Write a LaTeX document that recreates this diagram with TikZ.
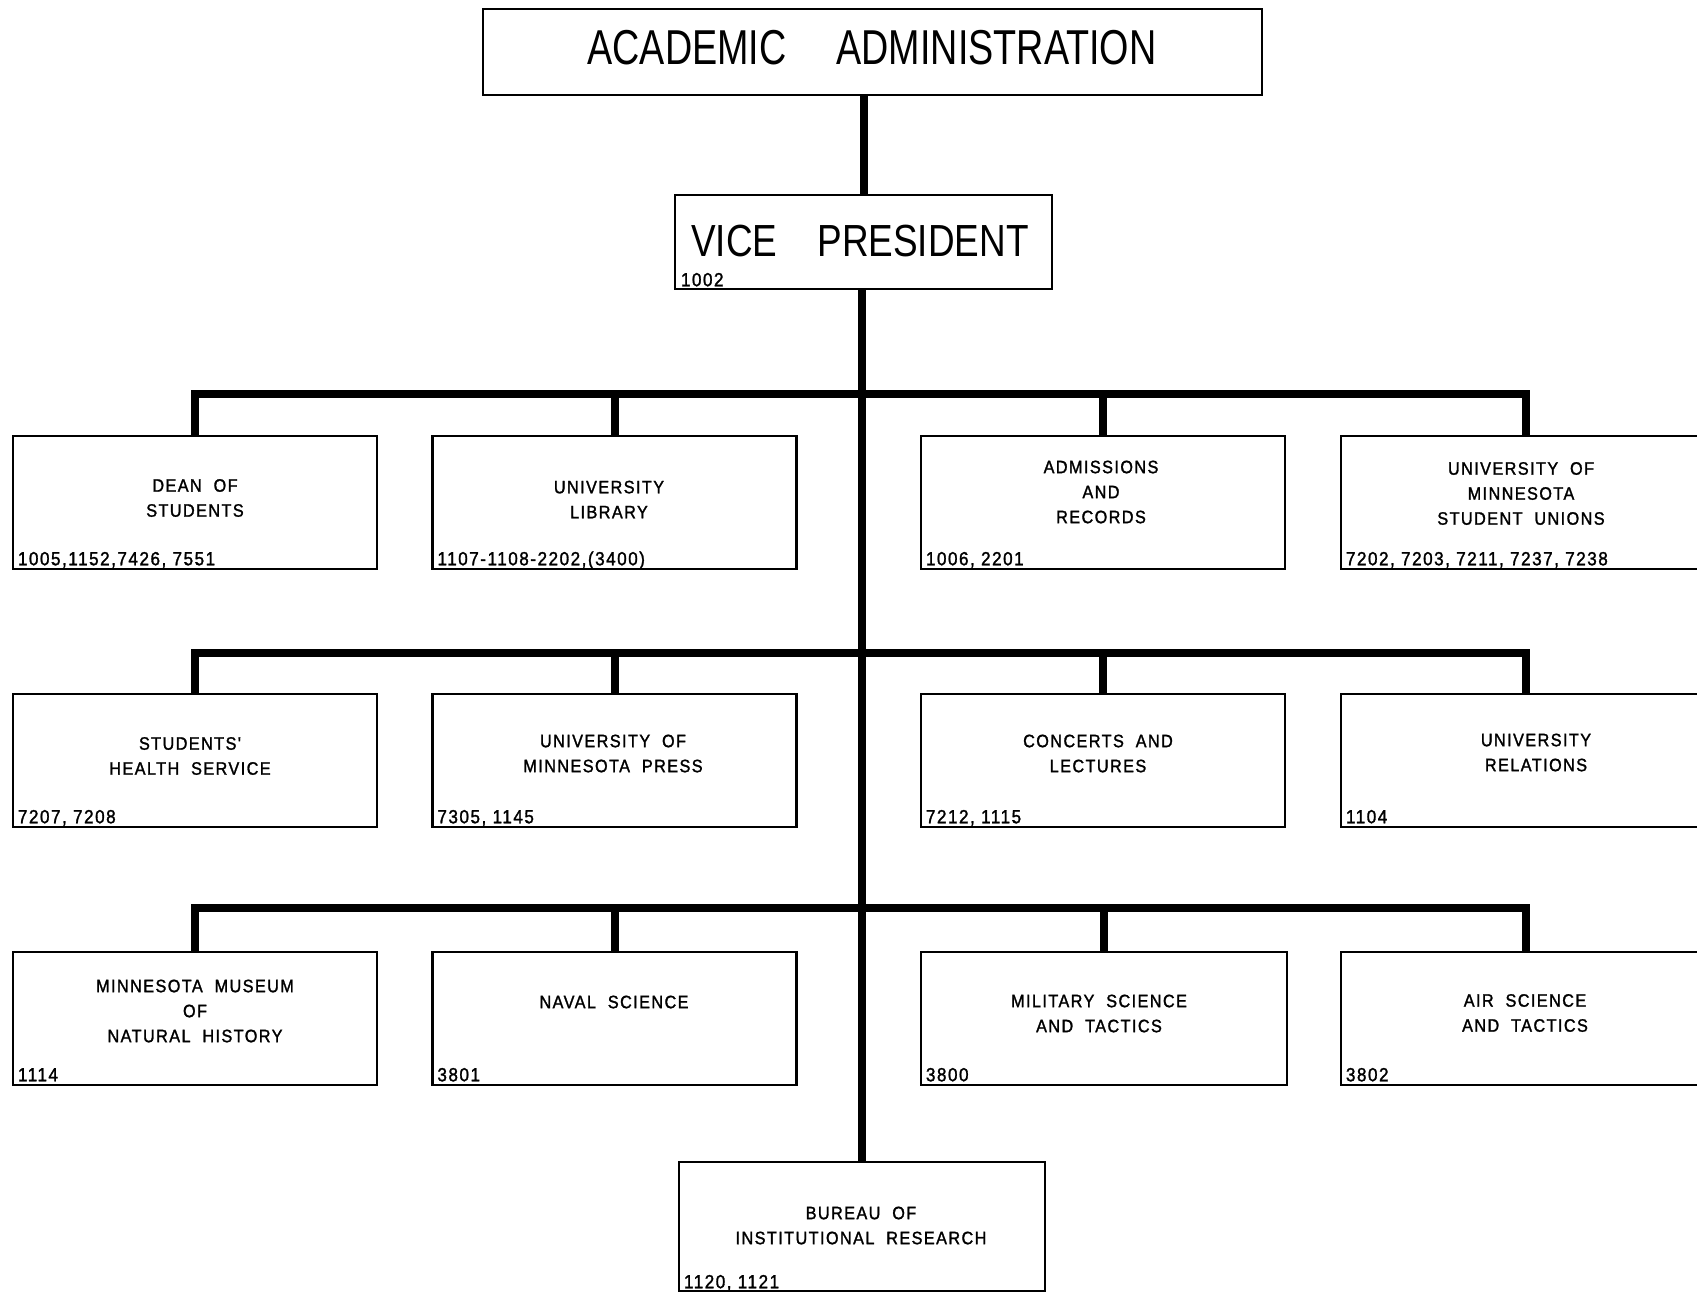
\documentclass[tikz,border=0pt]{standalone}
\usepackage{fontspec}
\setmainfont{Liberation Sans}
\newfontfamily\titlefont[FakeStretch=0.77]{Liberation Sans}
\newfontfamily\vpfont[FakeStretch=0.82]{Liberation Sans}
\newfontfamily\boxfont[FakeStretch=0.9,LetterSpace=8,FakeBold=1.5]{Liberation Sans}
\newcommand\wg{\ \ }
\tikzset{
  box/.style={draw, line width=2.5pt, rectangle, inner sep=0pt, minimum width=364pt, minimum height=133pt},
  lbl/.style={font=\boxfont\fontsize{18}{25}\selectfont, align=center, inner sep=0pt},
  num/.style={font=\boxfont\fontsize{19}{20}\selectfont, anchor=base west, inner sep=0pt},
  link/.style={line width=8pt, line join=miter},
}
\begin{document}
\begin{tikzpicture}[x=1pt,y=-1pt]
\useasboundingbox (0,0) rectangle (1697,1293);
\clip (0,0) rectangle (1697,1293);

% top boxes
\node[box, minimum width=779pt, minimum height=86pt] (aa) at (872.5,52) {};
\node[inner sep=0pt, font=\titlefont\fontsize{49}{50}\selectfont] (aat) at (872,48) {ACADEMIC\hspace{50pt}ADMINISTRATION};
\node[box, minimum width=377pt, minimum height=94pt] (vp) at (863.5,242) {};
\node[inner sep=0pt, font=\vpfont\fontsize{45}{46}\selectfont] (vpt) at (860,241) {VICE\hspace{40pt}PRESIDENT};
\node[num] (vpn) at ([xshift=7pt,yshift=4pt]vp.south west) {1002};

% bureau
\node[box, minimum width=366pt, minimum height=129pt] (bir) at (862,1226.5) {};
\node[lbl] (birt) at (861,1225.5) {BUREAU\wg OF\\INSTITUTIONAL\wg RESEARCH};
\node[num] (birn) at ([xshift=6pt,yshift=4pt]bir.south west) {1120, 1121};

% row 1
\node[box] (b11) at (195,502.5) {};
\node[box] (b12) at (614.5,502.5) {};
\node[box] (b13) at (1103,502.5) {};
\node[box, minimum width=370pt] (b14) at (1526,502.5) {};
\node[lbl] (t11) at (195,498) {DEAN\wg OF\\STUDENTS};
\node[lbl] (t12) at (609,499.5) {UNIVERSITY\\LIBRARY};
\node[lbl] (t13) at (1101,492) {ADMISSIONS\\AND\\RECORDS};
\node[lbl] (t14) at (1521,493.5) {UNIVERSITY\wg OF\\MINNESOTA\\STUDENT\wg UNIONS};
\node[num] (n11) at ([xshift=6pt,yshift=5pt]b11.south west) {1005,1152,7426, 7551};
\node[num] (n12) at ([xshift=6pt,yshift=5pt]b12.south west) {1107-1108-2202,(3400)};
\node[num] (n13) at ([xshift=6pt,yshift=5pt]b13.south west) {1006, 2201};
\node[num] (n14) at ([xshift=6pt,yshift=5pt]b14.south west) {7202, 7203, 7211, 7237, 7238};

% row 2
\node[box] (b21) at (195,760.5) {};
\node[box] (b22) at (614.5,760.5) {};
\node[box] (b23) at (1103,760.5) {};
\node[box, minimum width=370pt] (b24) at (1526,760.5) {};
\node[lbl] (t21) at (190,756) {STUDENTS'\\HEALTH\wg SERVICE};
\node[lbl] (t22) at (613,753.5) {UNIVERSITY\wg OF\\MINNESOTA\wg PRESS};
\node[lbl] (t23) at (1098,753.5) {CONCERTS\wg AND\\LECTURES};
\node[lbl] (t24) at (1536,752.5) {UNIVERSITY\\RELATIONS};
\node[num] (n21) at ([xshift=6pt,yshift=5pt]b21.south west) {7207, 7208};
\node[num] (n22) at ([xshift=6pt,yshift=5pt]b22.south west) {7305, 1145};
\node[num] (n23) at ([xshift=6pt,yshift=5pt]b23.south west) {7212, 1115};
\node[num] (n24) at ([xshift=6pt,yshift=5pt]b24.south west) {1104};

% row 3
\node[box] (b31) at (195,1018.5) {};
\node[box] (b32) at (614.5,1018.5) {};
\node[box, minimum width=366pt] (b33) at (1104,1018.5) {};
\node[box, minimum width=370pt] (b34) at (1526,1018.5) {};
\node[lbl] (t31) at (195,1011) {MINNESOTA\wg MUSEUM\\OF\\NATURAL\wg HISTORY};
\node[lbl] (t32) at (614,1002) {NAVAL\wg SCIENCE};
\node[lbl] (t33) at (1099,1013.5) {MILITARY\wg SCIENCE\\AND\wg TACTICS};
\node[lbl] (t34) at (1525,1013) {AIR\wg SCIENCE\\AND\wg TACTICS};
\node[num] (n31) at ([xshift=6pt,yshift=5pt]b31.south west) {1114};
\node[num] (n32) at ([xshift=6pt,yshift=5pt]b32.south west) {3801};
\node[num] (n33) at ([xshift=6pt,yshift=5pt]b33.south west) {3800};
\node[num] (n34) at ([xshift=6pt,yshift=5pt]b34.south west) {3802};

% trunk
\draw[link] (vp.north) -- (vp.north |- aa.south);
\draw[link] (vp.south -| bir.north) -- (bir.north);

% buses
\coordinate (bus1) at (862,394);
\coordinate (bus2) at (862,653);
\coordinate (bus3) at (862,908);
\foreach \r/\bus in {1/bus1,2/bus2,3/bus3}{
  \foreach \c in {1,2,3,4}{
    \draw[link] (b\r\c.north) |- (\bus);
  }
}
\end{tikzpicture}
\end{document}
